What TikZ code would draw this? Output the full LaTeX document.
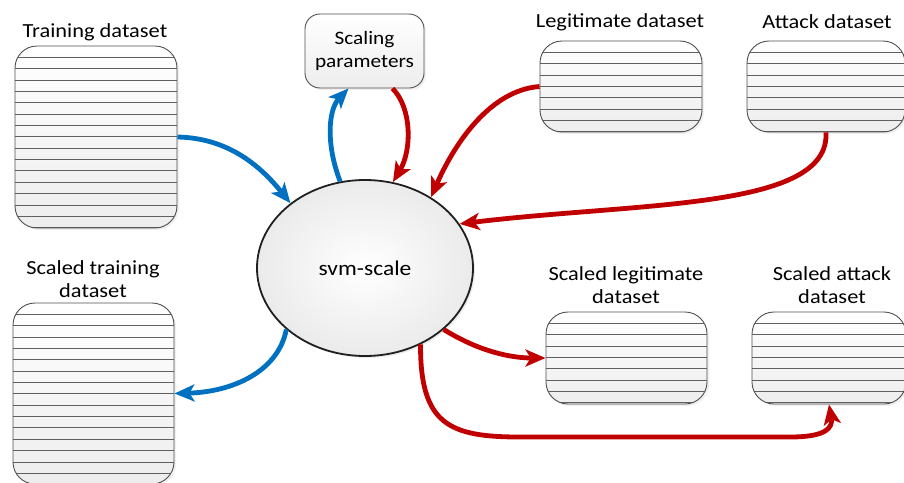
\documentclass[tikz,border=0pt]{standalone}
\usepackage{fontspec}
\setmainfont[FakeStretch=1.12]{Carlito}
\usetikzlibrary{arrows.meta,shapes.geometric,shadows}

\definecolor{flowblue}{HTML}{0070C0}
\definecolor{flowred}{HTML}{C00000}
\definecolor{edgegray}{HTML}{505050}

\tikzset{
  datastore/.style={draw=edgegray, line width=0.9pt, rounded corners=22pt,
    top color=white, bottom color=gray!14, inner sep=0pt,
    drop shadow={opacity=0.12, shadow xshift=2pt, shadow yshift=-2pt},
    path picture={
      \foreach \k in {1,...,16}
        \draw[gray!75!black, line width=0.8pt]
          ([yshift=-\k*11.35pt]path picture bounding box.north west) --
          ([yshift=-\k*11.35pt]path picture bounding box.north east);
    }},
  caption/.style={align=center, font=\fontsize{20}{23}\selectfont, inner sep=0pt},
  flow/.style={line width=4.8pt, -{Stealth[length=20pt, width=17pt, inset=5pt]}},
  blueflow/.style={flow, draw=flowblue},
  redflow/.style={flow, draw=flowred},
}

\begin{document}
\begin{tikzpicture}[x=1pt, y=-1pt]
\useasboundingbox (0,0) rectangle (904,482);

% central processing step
\node[ellipse, draw=gray!25!black, line width=1.8pt, inner color=white, outer color=gray!16,
      minimum width=216pt, minimum height=176pt, inner sep=0pt,
      drop shadow={opacity=0.15, shadow xshift=2pt, shadow yshift=-2pt},
      font=\fontsize{21}{24}\selectfont] (svm) at (365,268) {svm-scale};

% scaling parameters store
\node[draw=edgegray, line width=0.9pt, rounded corners=15pt, top color=white, bottom color=gray!14,
      minimum width=119pt, minimum height=74pt, inner sep=0pt, align=center,
      drop shadow={opacity=0.12, shadow xshift=2pt, shadow yshift=-2pt},
      font=\fontsize{19}{23}\selectfont] (params) at (364.5,51) {Scaling\\parameters};

% input datasets
\node[datastore, minimum width=162pt, minimum height=182pt] (train) at (96,137) {};
\node[datastore, minimum width=162pt, minimum height=91pt] (legit) at (621,86.5) {};
\node[datastore, minimum width=158pt, minimum height=91pt] (attack) at (826,86.5) {};

% scaled datasets
\node[datastore, minimum width=161pt, minimum height=181pt] (strain) at (93.5,393.5) {};
\node[datastore, minimum width=161pt, minimum height=92pt] (slegit) at (626.5,358) {};
\node[datastore, minimum width=154pt, minimum height=92pt] (sattack) at (829,358) {};

% captions
\node[caption] (trainlbl) at (95,32) {Training dataset};
\node[caption] (legitlbl) at (620,22) {Legitimate dataset};
\node[caption] (attacklbl) at (827,22) {Attack dataset};
\node[caption] (strainlbl) at (93,279) {Scaled training\\dataset};
\node[caption] (slegitlbl) at (626,285.5) {Scaled legitimate\\dataset};
\node[caption] (sattacklbl) at (832,285.5) {Scaled attack\\dataset};

% training data flow
\draw[blueflow] (train.east) .. controls (230,138) and (262,168) .. (svm.139);
\draw[blueflow] (svm.106) .. controls (326,145) and (328,110) .. ([xshift=-16pt]params.south);
\draw[blueflow] (svm.218) .. controls (278,372) and (232,392) .. (strain.east);

% test data flow
\draw[redflow] ([xshift=28pt]params.south) .. controls (412,108) and (412,150) .. (svm.72);
\draw[redflow] (legit.west) .. controls (492,90) and (456,140) .. (svm.47);
\draw[redflow] (attack.south) .. controls (830,210) and (640,202) .. (svm.25);
\draw[redflow] (svm.322) .. controls (480,352) and (512,358) .. (slegit.west);
\coordinate (bendA) at (520,437);
\coordinate (bendB) at (790,437);
\draw[redflow] (svm.306) .. controls (420,425) and (450,437) .. (bendA) -- (bendB)
  .. controls (826,437) and (833,428) .. (sattack.south);
\end{tikzpicture}
\end{document}
